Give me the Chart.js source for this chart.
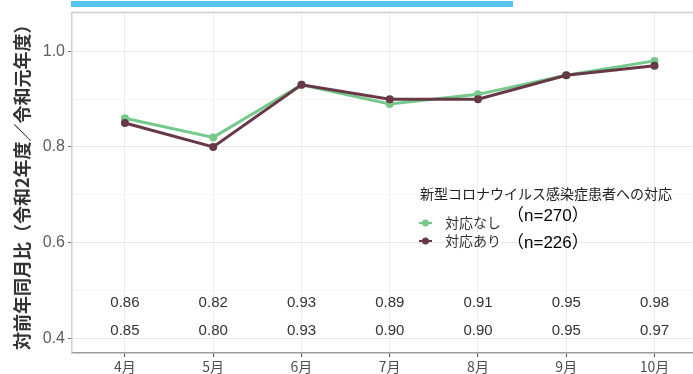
<!DOCTYPE html>
<html>
<head>
<meta charset="utf-8">
<script src="https://cdn.jsdelivr.net/npm/chart.js@4"></script>
<style>
  html, body { margin: 0; padding: 0; background: #fff; overflow: hidden; }
  #wrap { position: relative; width: 693px; height: 374px; overflow: hidden; }
  #banner { position: absolute; left: 71px; top: 1px; width: 442px; height: 6px; background: #55c5f0; }
</style>
</head>
<body>
<div id="wrap">
  <canvas id="chart" width="730" height="374"></canvas>
  <div id="banner"></div>
</div>
<script>
const months = ['4月', '5月', '6月', '7月', '8月', '9月', '10月'];
const noResponse = [0.86, 0.82, 0.93, 0.89, 0.91, 0.95, 0.98];   // 対応なし
const withResponse = [0.85, 0.80, 0.93, 0.90, 0.90, 0.95, 0.97]; // 対応あり
const yTicks = [0.4, 0.5, 0.6, 0.7, 0.8, 0.9, 1.0];
const seriesNames = ['対応なし', '対応あり'];
const seriesCounts = ['（n=270）', '（n=226）'];
const legendTitle = '新型コロナウイルス感染症患者への対応';
const yTitle = '対前年同月比（令和2年度／令和元年度）';

const green = '#74c98b';
const maroon = '#673846';
const jp = '"Noto Sans CJK JP", sans-serif';

const isMajor = v => Math.round(v * 10) % 2 === 0;

// value labels under the lines + custom legend
const overlay = {
    id: 'overlay',
    afterDraw(chart) {
        const ctx = chart.ctx;
        const xs = chart.scales.x;
        const ys = chart.scales.y;
        const area = chart.chartArea;
        ctx.save();

        // top panel border
        ctx.strokeStyle = '#cfcfcf';
        ctx.lineWidth = 1.5;
        ctx.beginPath();
        ctx.moveTo(area.left, area.top);
        ctx.lineTo(area.right, area.top);
        ctx.stroke();

        // numbers
        ctx.fillStyle = '#333';
        ctx.font = '15px "Liberation Sans", Arial, sans-serif';
        ctx.textAlign = 'center';
        ctx.textBaseline = 'middle';
        months.forEach((m, i) => {
            const x = xs.getPixelForValue(i);
            ctx.fillText(noResponse[i].toFixed(2), x, ys.getPixelForValue(0.473));
            ctx.fillText(withResponse[i].toFixed(2), x, ys.getPixelForValue(0.415));
        });

        // legend
        ctx.textAlign = 'left';
        ctx.fillStyle = '#222';
        ctx.font = '14px ' + jp;
        ctx.fillText(legendTitle, 420, 194);

        const rows = [223, 241];
        const colors = [green, maroon];
        rows.forEach((y, k) => {
            ctx.strokeStyle = colors[k];
            ctx.lineWidth = 2;
            ctx.beginPath();
            ctx.moveTo(419, y);
            ctx.lineTo(432, y);
            ctx.stroke();
            ctx.fillStyle = colors[k];
            ctx.beginPath();
            ctx.arc(425.5, y, 3.5, 0, Math.PI * 2);
            ctx.fill();
            ctx.fillStyle = '#333';
            ctx.font = '14px ' + jp;
            ctx.fillText(seriesNames[k], 445, y);
        });
        ctx.fillStyle = '#000';
        ctx.font = '17px "Liberation Sans", ' + jp;
        ctx.fillText(seriesCounts[0], 507, 216);
        ctx.fillText(seriesCounts[1], 507, 243);

        ctx.restore();
    }
};

const ctx = document.getElementById('chart').getContext('2d');
new Chart(ctx, {
    type: 'line',
    data: {
        datasets: [
            {
                label: seriesNames[1],
                data: withResponse.map((v, i) => ({ x: i, y: v })),
                borderColor: maroon,
                backgroundColor: maroon,
                borderWidth: 3,
                pointRadius: 4,
                pointBorderWidth: 0,
                order: 0
            },
            {
                label: seriesNames[0],
                data: noResponse.map((v, i) => ({ x: i, y: v })),
                borderColor: green,
                backgroundColor: green,
                borderWidth: 3,
                pointRadius: 4,
                pointBorderWidth: 0,
                order: 1
            }
        ]
    },
    options: {
        responsive: false,
        animation: false,
        layout: { padding: { top: 12, right: 0, left: 0, bottom: 0 } },
        plugins: {
            legend: { display: false },
            tooltip: { enabled: false }
        },
        scales: {
            x: {
                type: 'linear',
                min: -0.6,
                max: 6.81,
                afterBuildTicks: s => { s.ticks = months.map((m, i) => ({ value: i })); },
                afterFit: s => { s.height = 21; },
                ticks: {
                    callback: v => months[v],
                    color: '#4d4d4d',
                    padding: 1,
                    maxRotation: 0,
                    autoSkip: false,
                    font: { family: jp, size: 14 }
                },
                grid: { color: '#ececec', tickLength: 4, tickColor: '#555' },
                border: { color: '#9a9a9a', width: 1.5 }
            },
            y: {
                min: 0.369,
                max: 1.081,
                afterBuildTicks: s => { s.ticks = yTicks.map(v => ({ value: v })); },
                afterFit: s => { s.width = 72; },
                ticks: {
                    callback: v => isMajor(v) ? v.toFixed(1) : '',
                    color: '#5e5e5e',
                    padding: 3,
                    font: { family: '"Liberation Sans", Arial, sans-serif', size: 16 }
                },
                grid: {
                    color: c => isMajor(c.tick.value) ? '#e8e8e8' : '#f4f4f4',
                    tickColor: c => isMajor(c.tick.value) ? '#777' : 'rgba(0,0,0,0)',
                    tickLength: 4
                },
                border: { color: '#d0d0d0', width: 1.5 },
                title: {
                    display: true,
                    text: yTitle,
                    color: '#333',
                    padding: { top: 11, bottom: 0 },
                    font: { family: jp, size: 18, weight: 'bold' }
                }
            }
        }
    },
    plugins: [overlay]
});
</script>
</body>
</html>
